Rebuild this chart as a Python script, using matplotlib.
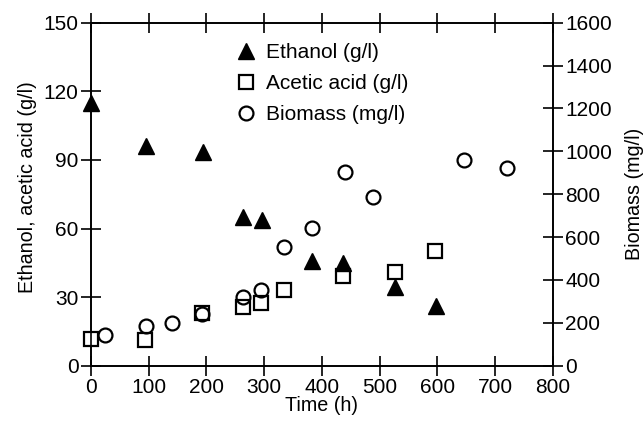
import matplotlib
matplotlib.use("Agg")
import matplotlib.pyplot as plt

plt.rcParams['font.family'] = ['Liberation Sans', 'DejaVu Sans']

# Data
eth_t = [0, 96, 194, 264, 296, 383, 437, 526, 597]
eth_v = [115, 96, 93.6, 64.9, 63.7, 45.9, 45.0, 34.3, 26.1]
ace_t = [0, 94, 192, 263, 294, 334, 437, 526, 596]
ace_v = [11.5, 11.2, 22.9, 25.5, 27.5, 33.1, 39.2, 41.1, 50.3]
bio_t = [24, 95, 141, 192, 263, 294, 334, 383, 440, 488, 646, 721]
bio_v = [143, 185, 198, 241, 322, 353, 555, 644, 905, 788, 959, 921]

xticks = [0, 100, 200, 300, 400, 500, 600, 700, 800]
yticks_left = [0, 30, 60, 90, 120, 150]
yticks_right = [0, 200, 400, 600, 800, 1000, 1200, 1400, 1600]

fig = plt.figure(figsize=(6.43, 4.22), dpi=100)
ax = fig.add_axes([0.1415, 0.1334, 0.7185, 0.8128])
ax2 = ax.twinx()

fs = 15
lfs = 14.2
lw = 1.2
ms = 10

h1, = ax.plot(eth_t, eth_v, linestyle='none', marker='^', color='black',
              markersize=11, label='Ethanol (g/l)', clip_on=False, zorder=5)
h2, = ax.plot(ace_t, ace_v, linestyle='none', marker='s', markerfacecolor='white',
              markeredgecolor='black', markeredgewidth=1.6, markersize=ms,
              label='Acetic acid (g/l)', clip_on=False, zorder=4)
h3, = ax2.plot(bio_t, bio_v, linestyle='none', marker='o', markerfacecolor='none',
               markeredgecolor='black', markeredgewidth=1.6, markersize=ms,
               label='Biomass (mg/l)', clip_on=False, zorder=3)

ax.set_xlim(0, 800)
ax.set_ylim(0, 150)
ax2.set_ylim(0, 1600)
ax.set_xticks(xticks)
ax.set_yticks(yticks_left)
ax2.set_yticks(yticks_right)

for a in (ax, ax2):
    for s in a.spines.values():
        s.set_linewidth(lw)

ax.tick_params(axis='x', direction='inout', length=14, width=lw, labelsize=fs,
               top=True, pad=2)
ax.tick_params(axis='y', direction='inout', length=14, width=lw, labelsize=fs,
               right=False, pad=2)
ax2.tick_params(axis='y', direction='inout', length=14, width=lw, labelsize=fs, pad=2)

ax.set_xlabel('Time (h)', fontsize=lfs, labelpad=-1)
ax.set_ylabel('Ethanol, acetic acid (g/l)', fontsize=lfs, labelpad=5, y=0.52)
ax2.set_ylabel('Biomass (mg/l)', fontsize=lfs, labelpad=9, y=0.5)

leg = ax.legend(handles=[h1, h2, h3], loc='upper left', bbox_to_anchor=(0.30, 0.965),
                frameon=False, fontsize=fs, handlelength=0.8, handletextpad=0.55,
                labelspacing=0.57, borderaxespad=0)

fig.savefig('out.png', dpi=100)
